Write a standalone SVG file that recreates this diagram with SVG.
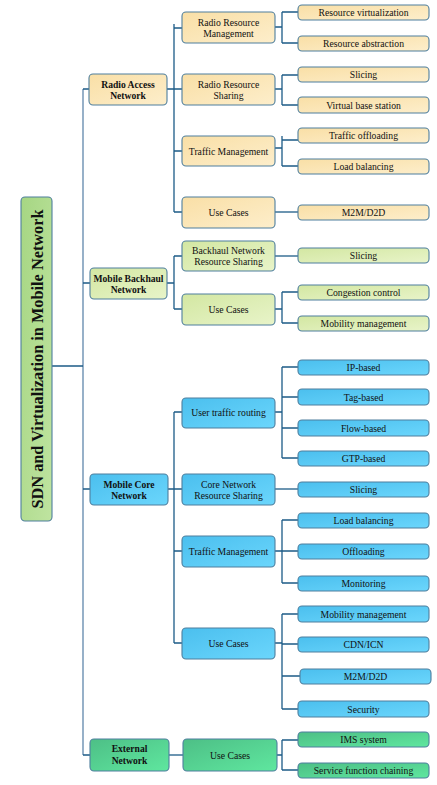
<svg xmlns="http://www.w3.org/2000/svg" width="437" height="785" viewBox="0 0 437 785">
<defs>
<linearGradient id="gY" x1="0" y1="0" x2="1" y2="1"><stop offset="0" stop-color="#f9dfa6"/><stop offset="1" stop-color="#fdeecb"/></linearGradient>
<linearGradient id="gG" x1="0" y1="0" x2="1" y2="1"><stop offset="0" stop-color="#d3e7a2"/><stop offset="1" stop-color="#e8f4c9"/></linearGradient>
<linearGradient id="gB" x1="0" y1="0" x2="1" y2="1"><stop offset="0" stop-color="#4bbfee"/><stop offset="1" stop-color="#6bd6fc"/></linearGradient>
<linearGradient id="gE" x1="0" y1="0" x2="1" y2="1"><stop offset="0" stop-color="#4dbf86"/><stop offset="1" stop-color="#5fe79f"/></linearGradient>
<linearGradient id="gR" x1="0" y1="0" x2="1" y2="1"><stop offset="0" stop-color="#a6d683"/><stop offset="1" stop-color="#bfe4a0"/></linearGradient>
</defs>
<style>
rect{stroke:#4f7f9e;stroke-width:1.1}
.y{fill:url(#gY)}.g{fill:url(#gG)}.b{fill:url(#gB)}.e{fill:url(#gE)}.r{fill:url(#gR)}
text{font-family:"Liberation Serif","Times New Roman",serif;font-size:9.7px;fill:#111;text-anchor:middle}
.l1{font-weight:bold;font-size:9.6px}
.root{font-weight:bold;font-size:16.3px}
.c path{fill:none;stroke:#1c5b87;stroke-width:1.3}
.c .trunk{stroke:#7d9dbb;stroke-width:1.6}
</style>
<g class="c" id="connectors">
<path class="trunk" d="M83 89V755"/>
<path d="M52 366H83M83 89H89M83 283H90M83 489H90M83 755H90"/>
<path d="M167 89H174M174 24V212M174 28H182M174 89H182M174 151H182M174 212H182"/>
<path d="M167 283H174M174 256V309M174 256H182M174 309H182"/>
<path d="M168 489H174M174 412V643M174 412H182M174 489H182M174 551H182M174 643H182"/>
<path d="M169 755H183"/>
<path d="M275 27H282M282 12V43M282 12H298M282 43H298"/>
<path d="M275 89H282M282 75V105M282 75H298M282 105H298"/>
<path d="M275 148H282M282 136V166M282 140H298M282 166H298"/>
<path d="M275 212H298"/>
<path d="M275 256H298"/>
<path d="M275 309H282M282 292V323M282 292H298M282 323H298"/>
<path d="M275 412H282M282 367V458M282 367H298M282 397H298M282 428H298M282 458H298"/>
<path d="M275 489H298"/>
<path d="M275 551H282M282 520V583M282 520H298M282 551H298M282 583H298"/>
<path d="M275 643H282M282 614V709M282 614H298M282 644H298M282 676H300M282 709H298"/>
<path d="M277 755H282M282 740V770M282 740H298M282 770H298"/>
</g>
<g id="root"><rect class="r" x="21" y="197" width="31" height="324" rx="4"/><text class="root" transform="translate(37 359) rotate(-90)" dy="5.5">SDN and Virtualization in Mobile Network</text></g>
<g id="ran"><rect class="y" x="89" y="74" width="78" height="31" rx="4"/><text class="l1" x="128" y="87.5">Radio Access</text><text class="l1" x="128" y="99">Network</text></g>
<g id="backhaul"><rect class="g" x="90" y="268" width="77" height="31" rx="4"/><text class="l1" x="128.5" y="281.5">Mobile Backhaul</text><text class="l1" x="128.5" y="293">Network</text></g>
<g id="core"><rect class="b" x="90" y="474" width="78" height="31" rx="4"/><text class="l1" x="129" y="487.5">Mobile Core</text><text class="l1" x="129" y="499">Network</text></g>
<g id="external"><rect class="e" x="90" y="739" width="79" height="32" rx="4"/><text class="l1" x="129.5" y="752">External</text><text class="l1" x="129.5" y="764">Network</text></g>

<g id="rrm"><rect class="y" x="182" y="12" width="93" height="31" rx="4"/><text x="228.5" y="25.5">Radio Resource</text><text x="228.5" y="37">Management</text></g>
<g id="rrs"><rect class="y" x="182" y="74" width="93" height="31" rx="4"/><text x="228.5" y="87.5">Radio Resource</text><text x="228.5" y="99">Sharing</text></g>
<g id="ran-tm"><rect class="y" x="182" y="136" width="93" height="30" rx="4"/><text x="228.5" y="154.5">Traffic Management</text></g>
<g id="ran-uc"><rect class="y" x="182" y="197" width="93" height="31" rx="4"/><text x="228.5" y="216">Use Cases</text></g>
<g id="bh-rs"><rect class="g" x="182" y="241" width="93" height="30" rx="4"/><text x="228.5" y="253.5">Backhaul Network</text><text x="228.5" y="265">Resource Sharing</text></g>
<g id="bh-uc"><rect class="g" x="182" y="294" width="93" height="31" rx="4"/><text x="228.5" y="313">Use Cases</text></g>
<g id="utr"><rect class="b" x="182" y="398" width="93" height="30" rx="4"/><text x="228.5" y="416">User traffic routing</text></g>
<g id="core-rs"><rect class="b" x="182" y="474" width="93" height="31" rx="4"/><text x="228.5" y="487.5">Core Network</text><text x="228.5" y="499">Resource Sharing</text></g>
<g id="core-tm"><rect class="b" x="182" y="536" width="93" height="31" rx="4"/><text x="228.5" y="555">Traffic Management</text></g>
<g id="core-uc"><rect class="b" x="182" y="628" width="93" height="31" rx="4"/><text x="228.5" y="647">Use Cases</text></g>
<g id="ext-uc"><rect class="e" x="183" y="739" width="94" height="32" rx="4"/><text x="230" y="758.5">Use Cases</text></g>

<g id="l-rv"><rect class="y" x="298" y="5" width="131" height="15" rx="4"/><text x="363.5" y="16">Resource virtualization</text></g>
<g id="l-ra"><rect class="y" x="298" y="36" width="131" height="15" rx="4"/><text x="363.5" y="47">Resource abstraction</text></g>
<g id="l-sl1"><rect class="y" x="298" y="67" width="131" height="15" rx="4"/><text x="363.5" y="78">Slicing</text></g>
<g id="l-vbs"><rect class="y" x="298" y="97" width="131" height="16" rx="4"/><text x="363.5" y="108.5">Virtual base station</text></g>
<g id="l-to"><rect class="y" x="298" y="128" width="131" height="15" rx="4"/><text x="363.5" y="139">Traffic offloading</text></g>
<g id="l-lb1"><rect class="y" x="298" y="159" width="131" height="15" rx="4"/><text x="363.5" y="170">Load balancing</text></g>
<g id="l-m2m1"><rect class="y" x="298" y="205" width="131" height="15" rx="4"/><text x="363.5" y="216">M2M/D2D</text></g>
<g id="l-sl2"><rect class="g" x="298" y="248" width="131" height="15" rx="4"/><text x="363.5" y="259">Slicing</text></g>
<g id="l-cc"><rect class="g" x="298" y="285" width="131" height="15" rx="4"/><text x="363.5" y="296">Congestion control</text></g>
<g id="l-mm1"><rect class="g" x="298" y="316" width="131" height="15" rx="4"/><text x="363.5" y="327">Mobility management</text></g>
<g id="l-ip"><rect class="b" x="298" y="360" width="131" height="15" rx="4"/><text x="363.5" y="371">IP-based</text></g>
<g id="l-tag"><rect class="b" x="298" y="389" width="131" height="16" rx="4"/><text x="363.5" y="400.5">Tag-based</text></g>
<g id="l-flow"><rect class="b" x="298" y="420" width="131" height="16" rx="4"/><text x="363.5" y="431.5">Flow-based</text></g>
<g id="l-gtp"><rect class="b" x="298" y="451" width="131" height="15" rx="4"/><text x="363.5" y="462">GTP-based</text></g>
<g id="l-sl3"><rect class="b" x="298" y="482" width="131" height="15" rx="4"/><text x="363.5" y="493">Slicing</text></g>
<g id="l-lb2"><rect class="b" x="298" y="513" width="131" height="15" rx="4"/><text x="363.5" y="524">Load balancing</text></g>
<g id="l-off"><rect class="b" x="298" y="544" width="131" height="15" rx="4"/><text x="363.5" y="555">Offloading</text></g>
<g id="l-mon"><rect class="b" x="298" y="576" width="131" height="15" rx="4"/><text x="363.5" y="587">Monitoring</text></g>
<g id="l-mm2"><rect class="b" x="298" y="606" width="131" height="16" rx="4"/><text x="363.5" y="617.5">Mobility management</text></g>
<g id="l-cdn"><rect class="b" x="298" y="637" width="131" height="15" rx="4"/><text x="363.5" y="648">CDN/ICN</text></g>
<g id="l-m2m2"><rect class="b" x="300" y="669" width="131" height="15" rx="4"/><text x="365.5" y="680">M2M/D2D</text></g>
<g id="l-sec"><rect class="b" x="298" y="701" width="131" height="16" rx="4"/><text x="363.5" y="712.5">Security</text></g>
<g id="l-ims"><rect class="e" x="298" y="732" width="131" height="15" rx="4"/><text x="363.5" y="743">IMS system</text></g>
<g id="l-sfc"><rect class="e" x="298" y="763" width="131" height="15" rx="4"/><text x="363.5" y="774">Service function chaining</text></g>
</svg>
